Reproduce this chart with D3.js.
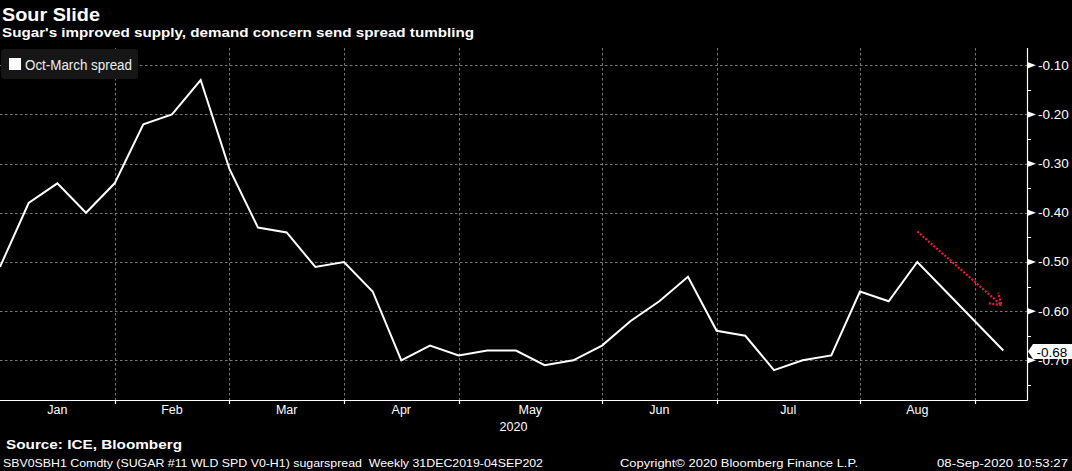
<!DOCTYPE html>
<html><head><meta charset="utf-8">
<script src="https://cdn.jsdelivr.net/npm/d3@7"></script>
<style>
html,body{margin:0;padding:0;background:#000;}
svg{display:block;}
text{white-space:pre;}
</style></head>
<body>
<svg id="c" width="1072" height="471"></svg>
<script>
// ---- data ----
const dates = ["2020-01-03","2020-01-10","2020-01-17","2020-01-24","2020-01-31",
  "2020-02-07","2020-02-14","2020-02-21","2020-02-28",
  "2020-03-06","2020-03-13","2020-03-20","2020-03-27",
  "2020-04-03","2020-04-10","2020-04-17","2020-04-24",
  "2020-05-01","2020-05-08","2020-05-15","2020-05-22","2020-05-29",
  "2020-06-05","2020-06-12","2020-06-19","2020-06-26",
  "2020-07-03","2020-07-10","2020-07-17","2020-07-24","2020-07-31",
  "2020-08-07","2020-08-14","2020-08-21","2020-08-28",
  "2020-09-04"];
const spread = [-0.51,-0.38,-0.34,-0.40,-0.34,
  -0.22,-0.20,-0.13,-0.31,
  -0.43,-0.44,-0.51,-0.50,
  -0.56,-0.70,-0.67,-0.69,
  -0.68,-0.68,-0.71,-0.70,-0.67,
  -0.62,-0.58,-0.53,-0.64,
  -0.65,-0.72,-0.70,-0.69,-0.56,
  -0.58,-0.50,-0.56,-0.62,
  -0.68];
const monthLabels = ["Jan","Feb","Mar","Apr","May","Jun","Jul","Aug"];
const yearLabel = "2020";
const yTicks = [-0.10,-0.20,-0.30,-0.40,-0.50,-0.60,-0.70];
const yMinorTicks = [-0.15,-0.25,-0.35,-0.45,-0.55,-0.65,-0.75];
const seriesName = "Oct-March spread";
const lastLabel = "-0.68";
// annotation arrow (index, value)
const arrowFrom = [32.0, -0.438];
const arrowTo = [34.94, -0.588];
const title = "Sour Slide";
const subtitle = "Sugar's improved supply, demand concern send spread tumbling";
const source = "Source: ICE, Bloomberg";
const footLeft = "SBV0SBH1 Comdty (SUGAR #11 WLD SPD V0-H1) sugarspread  Weekly 31DEC2019-04SEP202";
const footMid = "Copyright\u00A9 2020 Bloomberg Finance L.P.";
const footRight = "08-Sep-2020 10:53:27";

// ---- layout ----
const plotL = 0, plotR = 1027, plotT = 48, plotB = 400;
const svg = d3.select("#c");
const FONT = "'Liberation Sans', Arial, sans-serif";

const x = d3.scaleLinear().domain([0, 35]).range([0, 1003.3]);
const y = d3.scaleLinear().domain([-0.7807, -0.0648]).range([plotB, plotT]);

const parsed = dates.map(d => d3.timeParse("%Y-%m-%d")(d));
// month-end ticks: last weekly point in each month (except final month)
const monthEnds = [];
for (let i = 0; i < parsed.length - 1; i++) {
  if (parsed[i].getMonth() !== parsed[i+1].getMonth()) monthEnds.push(i);
}

const dash = "2.5,2.5", gridCol = "#7a7a7a";
// horizontal grid
svg.append("g").selectAll("line").data(yTicks).join("line")
  .attr("x1", plotL).attr("x2", plotR)
  .attr("y1", d => Math.round(y(d)) + 0.5).attr("y2", d => Math.round(y(d)) + 0.5)
  .attr("stroke", gridCol).attr("stroke-dasharray", dash).attr("stroke-width", 1);
// vertical grid
svg.append("g").selectAll("line").data(monthEnds).join("line")
  .attr("x1", d => Math.round(x(d)) + 0.5).attr("x2", d => Math.round(x(d)) + 0.5)
  .attr("y1", plotT).attr("y2", plotB)
  .attr("stroke", gridCol).attr("stroke-dasharray", dash).attr("stroke-width", 1);

// axes lines
svg.append("line").attr("x1", plotL).attr("x2", plotR + 0.5).attr("y1", plotB + 0.5).attr("y2", plotB + 0.5)
  .attr("stroke", "#fff").attr("stroke-width", 1.2);
svg.append("line").attr("x1", plotR + 0.5).attr("x2", plotR + 0.5).attr("y1", plotT).attr("y2", plotB + 0.5)
  .attr("stroke", "#fff").attr("stroke-width", 1.2);

// x ticks
svg.append("g").selectAll("line").data(monthEnds).join("line")
  .attr("x1", d => Math.round(x(d)) + 0.5).attr("x2", d => Math.round(x(d)) + 0.5)
  .attr("y1", plotB).attr("y2", plotB + 4).attr("stroke", "#fff").attr("stroke-width", 1.2);

// x labels centered between month boundaries
const bounds = [0, ...monthEnds];
svg.append("g").selectAll("text").data(monthLabels).join("text")
  .attr("x", (d, i) => (x(bounds[i]) + x(bounds[i+1])) / 2)
  .attr("y", 414).attr("text-anchor", "middle")
  .attr("fill", "#fff").attr("font-family", FONT).attr("font-size", 12.5)
  .text(d => d);
svg.append("text").attr("x", (plotL + plotR) / 2).attr("y", 431).attr("text-anchor", "middle")
  .attr("fill", "#fff").attr("font-family", FONT).attr("font-size", 12.5).text(yearLabel);

// y minor ticks
svg.append("g").selectAll("line").data(yMinorTicks).join("line")
  .attr("x1", plotR).attr("x2", plotR + 4)
  .attr("y1", d => Math.round(y(d)) + 0.5).attr("y2", d => Math.round(y(d)) + 0.5)
  .attr("stroke", "#fff").attr("stroke-width", 1);
// y major tick markers
svg.append("g").selectAll("path").data(yTicks).join("path")
  .attr("d", d => { const yy = y(d); return `M${plotR+1},${yy-3}L${plotR+9},${yy}L${plotR+1},${yy+3}Z`; })
  .attr("fill", "#fff");
svg.append("g").selectAll("text").data(yTicks).join("text")
  .attr("x", 1038).attr("y", d => y(d) + 4.5)
  .attr("fill", "#fff").attr("font-family", FONT).attr("font-size", 13.5)
  .text(d => "-" + Math.abs(d).toFixed(2));

// line
const line = d3.line().x((d, i) => x(i)).y(d => y(d));
svg.append("path").datum(spread).attr("d", line)
  .attr("fill", "none").attr("stroke", "#fff").attr("stroke-width", 2).attr("stroke-linejoin", "miter");

// arrow annotation
const ax0 = x(arrowFrom[0]), ay0 = y(arrowFrom[1]), ax1 = x(arrowTo[0]), ay1 = y(arrowTo[1]);
const ang = Math.atan2(ay1 - ay0, ax1 - ax0);
const headLen = 13, headAng = 33 * Math.PI / 180;
const arrowPath = `M${ax0},${ay0}L${ax1},${ay1}` +
  `M${ax1 - headLen*Math.cos(ang - headAng)},${ay1 - headLen*Math.sin(ang - headAng)}L${ax1},${ay1}` +
  `L${ax1 - headLen*Math.cos(ang + headAng)},${ay1 - headLen*Math.sin(ang + headAng)}`;
svg.append("path").attr("d", arrowPath).attr("fill", "none")
  .attr("stroke", "#f0163c").attr("stroke-width", 2.2).attr("stroke-dasharray", "2,1.6");

// last value label
const ly = y(spread[spread.length - 1]);
svg.append("path")
  .attr("d", `M${plotR+1},${ly+1}L${plotR+6},${ly-6.5}L1072,${ly-6.5}L1072,${ly+8.5}L${plotR+6},${ly+8.5}Z`)
  .attr("fill", "#fff");
svg.append("text").attr("x", 1036.5).attr("y", ly + 6.5)
  .attr("fill", "#000").attr("font-family", FONT).attr("font-size", 13.5).text(lastLabel);

// legend
svg.append("rect").attr("x", 1).attr("y", 49).attr("width", 137).attr("height", 30).attr("rx", 3)
  .attr("fill", "#161616");
svg.append("rect").attr("x", 9).attr("y", 58).attr("width", 12).attr("height", 12).attr("fill", "#fff");
svg.append("text").attr("x", 25).attr("y", 70).attr("fill", "#eee")
  .attr("font-family", FONT).attr("font-size", 14).attr("textLength", 107).attr("lengthAdjust", "spacingAndGlyphs")
  .text(seriesName);

// titles
svg.append("text").attr("x", 2).attr("y", 20.5).attr("fill", "#fff").attr("font-family", FONT)
  .attr("font-weight", "bold").attr("font-size", 18.5).attr("textLength", 98).attr("lengthAdjust", "spacingAndGlyphs")
  .text(title);
svg.append("text").attr("x", 2).attr("y", 37).attr("fill", "#fff").attr("font-family", FONT)
  .attr("font-weight", "bold").attr("font-size", 13).attr("textLength", 472).attr("lengthAdjust", "spacingAndGlyphs")
  .text(subtitle);

// footer
svg.append("text").attr("x", 6).attr("y", 449).attr("fill", "#fff").attr("font-family", FONT)
  .attr("font-weight", "bold").attr("font-size", 13).attr("textLength", 176).attr("lengthAdjust", "spacingAndGlyphs")
  .text(source);
svg.append("text").attr("x", 3).attr("y", 467).attr("fill", "#fff").attr("font-family", FONT)
  .attr("font-size", 11.5).attr("textLength", 540).attr("lengthAdjust", "spacingAndGlyphs").text(footLeft);
svg.append("text").attr("x", 620).attr("y", 467).attr("fill", "#fff").attr("font-family", FONT)
  .attr("font-size", 11.5).attr("textLength", 238).attr("lengthAdjust", "spacingAndGlyphs").text(footMid);
svg.append("text").attr("x", 937).attr("y", 467).attr("fill", "#fff").attr("font-family", FONT)
  .attr("font-size", 11.5).attr("textLength", 131).attr("lengthAdjust", "spacingAndGlyphs").text(footRight);
</script>
</body></html>
